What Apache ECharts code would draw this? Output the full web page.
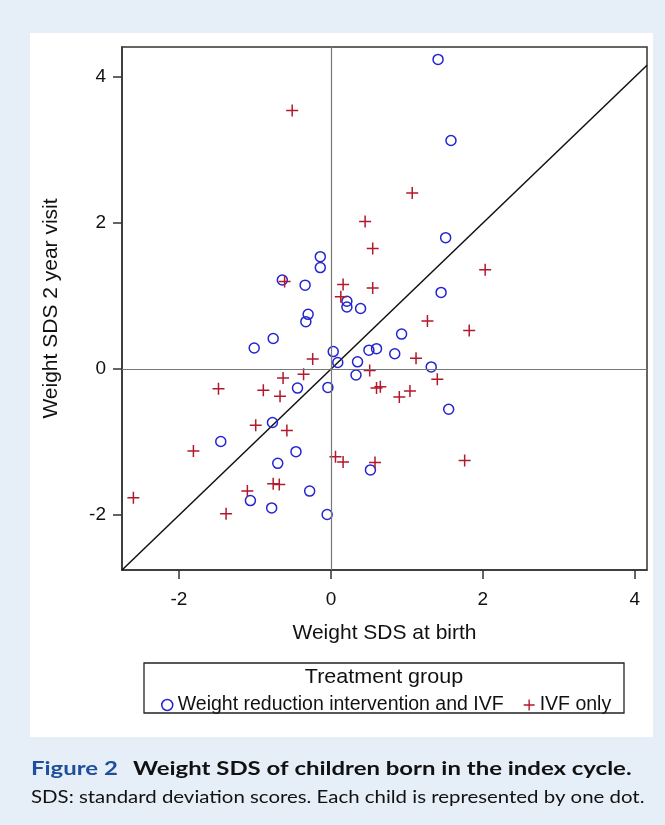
<!DOCTYPE html>
<html>
<head>
<meta charset="utf-8">
<script src="https://cdn.jsdelivr.net/npm/echarts@6/dist/echarts.min.js"></script>
<style>
	html, body { margin: 0; padding: 0; background: #e6eef8; }
	#chart { width: 665px; height: 825px; }
</style>
</head>
<body>
<div id="chart"></div>
<script>
	// axis limits and ticks
	var xMin = -2.75, xMax = 4.16;
	var yMin = -2.75, yMax = 4.41;
	var tickValues = [-2, 0, 2, 4];

	var seriesNames = ['Weight reduction intervention and IVF', 'IVF only'];

	// weight reduction group: [birth SDS, 2 year SDS]
	var wrData = [
		[1.41, 4.24], [1.58, 3.13], [1.51, 1.80], [-0.14, 1.54], [-0.14, 1.39],
		[-0.64, 1.22], [-0.34, 1.15], [1.45, 1.05], [0.21, 0.93], [0.21, 0.85],
		[0.39, 0.83], [-0.30, 0.75], [-0.33, 0.65], [0.93, 0.48], [-0.76, 0.42],
		[-1.01, 0.29], [0.03, 0.24], [0.50, 0.26], [0.60, 0.28], [0.84, 0.21],
		[0.09, 0.09], [0.35, 0.10], [1.32, 0.03], [0.33, -0.08], [-0.04, -0.25],
		[-0.44, -0.26], [1.55, -0.55], [-0.77, -0.73], [-1.45, -0.99], [-0.46, -1.13],
		[-0.70, -1.29], [0.52, -1.38], [-0.28, -1.67], [-1.06, -1.80], [-0.78, -1.90],
		[-0.05, -1.99]
	];

	// IVF only group
	var ivfData = [
		[-0.51, 3.54], [1.07, 2.41], [0.45, 2.02], [0.55, 1.65], [2.03, 1.36],
		[-0.61, 1.20], [0.16, 1.16], [0.55, 1.11], [0.13, 0.99], [1.27, 0.66],
		[1.82, 0.53], [1.12, 0.15], [-0.24, 0.14], [0.51, -0.02], [-0.63, -0.12],
		[-0.36, -0.07], [1.40, -0.14], [-1.48, -0.27], [-0.89, -0.29], [0.60, -0.26],
		[0.65, -0.24], [1.04, -0.30], [-0.67, -0.37], [0.90, -0.38], [-0.99, -0.77],
		[-0.58, -0.84], [-1.81, -1.12], [0.06, -1.20], [0.16, -1.27], [0.58, -1.28],
		[1.76, -1.25], [-0.76, -1.57], [-0.68, -1.58], [-1.10, -1.67], [-2.60, -1.76],
		[-1.38, -1.98]
	];

	var blue = '#2424d0';
	var red = '#b3182d';
	var plusPath = 'path://M5.25,0H6.75V5.25H12V6.75H6.75V12H5.25V6.75H0V5.25H5.25Z';
	var axisFont = '"Liberation Sans", Arial, sans-serif';

	var myChart = echarts.init(document.getElementById('chart'));

	var option = {
		backgroundColor: '#e6eef8',
		animation: false,
		textStyle: { fontFamily: axisFont },
		grid: {
			left: 122, right: 18, top: 47, bottom: 255,
			show: true,
			borderColor: '#333',
			borderWidth: 1.5,
			backgroundColor: 'transparent'
		},
		xAxis: {
			type: 'value',
			min: xMin, max: xMax,
			name: 'Weight SDS at birth',
			nameLocation: 'middle',
			nameGap: 53,
			nameTextStyle: { fontSize: 21, color: '#111' },
			axisLine: { show: true, onZero: false, lineStyle: { color: '#333', width: 1.5 } },
			axisTick: { show: true, length: 9, lineStyle: { color: '#333', width: 1.5 }, customValues: tickValues },
			axisLabel: { fontSize: 19, color: '#111', margin: 20, customValues: tickValues },
			splitLine: { show: false }
		},
		yAxis: {
			type: 'value',
			min: yMin, max: yMax,
			name: 'Weight SDS 2 year visit',
			nameLocation: 'middle',
			nameGap: 60,
			nameTextStyle: { fontSize: 21, color: '#111' },
			axisLine: { show: true, onZero: false, lineStyle: { color: '#333', width: 1.5 } },
			axisTick: { show: true, length: 9, lineStyle: { color: '#333', width: 1.5 }, customValues: tickValues },
			axisLabel: { fontSize: 19, color: '#111', margin: 16, customValues: tickValues },
			splitLine: { show: false }
		},
		legend: {
			left: 156,
			top: 690,
			itemWidth: 11,
			itemHeight: 11,
			itemGap: 20,
			textStyle: { fontSize: 19.5, color: '#111', fontFamily: axisFont },
			data: [
				{ name: seriesNames[0], icon: 'circle', itemStyle: { color: 'transparent', borderColor: blue, borderWidth: 1.5 } },
				{ name: seriesNames[1], icon: plusPath, itemStyle: { color: red, borderWidth: 0 } }
			]
		},
		graphic: [
			{ type: 'rect', z: -10, shape: { x: 30, y: 33, width: 623, height: 704 }, style: { fill: '#fff' } },
			{ type: 'rect', z: 5, shape: { x: 144, y: 663, width: 480, height: 50 }, style: { fill: 'none', stroke: '#222', lineWidth: 1.3 } },
			{ type: 'text', z: 5, x: 384, y: 677, scaleX: 1.05, style: { text: 'Treatment group', font: '20.5px "Liberation Sans", Arial, sans-serif', fill: '#111', align: 'center', verticalAlign: 'middle' } },
			{ type: 'text', z: 5, x: 31, y: 769, scaleX: 1.33, style: { text: 'Figure 2', font: 'bold 18px Lato, "Open Sans", sans-serif', fill: '#1f4e9a', verticalAlign: 'middle' } },
			{ type: 'text', z: 5, x: 133, y: 769, scaleX: 1.33, style: { text: 'Weight SDS of children born in the index cycle.', font: 'bold 18px Lato, "Open Sans", sans-serif', fill: '#111', verticalAlign: 'middle' } },
			{ type: 'text', z: 5, x: 31, y: 798, scaleX: 1.2, style: { text: 'SDS: standard deviation scores. Each child is represented by one dot.', font: '17px Lato, "Open Sans", sans-serif', fill: '#111', verticalAlign: 'middle' } }
		],
		series: [
			{
				name: 'reference',
				type: 'line',
				data: [[xMin, xMin], [xMax, xMax]],
				symbol: 'none',
				silent: true,
				lineStyle: { color: '#111', width: 1.5 },
				markLine: {
					silent: true,
					symbol: 'none',
					label: { show: false },
					lineStyle: { color: '#777', width: 1.2, type: 'solid' },
					data: [{ xAxis: 0 }, { yAxis: 0 }]
				},
				z: 1
			},
			{
				name: seriesNames[0],
				type: 'scatter',
				data: wrData,
				symbol: 'circle',
				symbolSize: 10,
				itemStyle: { color: 'transparent', borderColor: blue, borderWidth: 1.5, opacity: 1 },
				z: 3
			},
			{
				name: seriesNames[1],
				type: 'scatter',
				data: ivfData,
				symbol: plusPath,
				symbolSize: 12,
				itemStyle: { color: red, opacity: 1 },
				z: 3
			}
		]
	};

	myChart.setOption(option);
</script>
</body>
</html>
